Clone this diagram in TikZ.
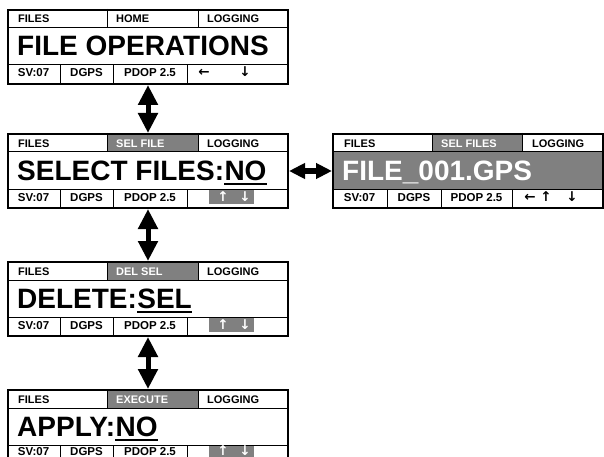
\documentclass[tikz,border=0pt]{standalone}
\usepackage{fontspec}
\setmainfont{Liberation Sans}
\newfontfamily\arrowfont{DejaVu Sans}
\usetikzlibrary{arrows.meta}
\definecolor{hlgray}{RGB}{128,128,128}

\begin{document}
\begin{tikzpicture}[x=1pt,y=-1pt,
  screen/.style={draw,line width=2pt,anchor=north west,inner sep=0pt,minimum height=74pt},
  cell/.style={line width=1pt},
  hl/.style={fill=hlgray},
  tabtext/.style={font=\fontsize{11}{11}\selectfont\bfseries,anchor=base west,inner sep=0pt},
  stattext/.style={font=\fontsize{11.5}{11.5}\selectfont\bfseries,anchor=base,inner sep=0pt},
  arrowtext/.style={font=\fontsize{13.5}{13.5}\arrowfont\bfseries,anchor=base,inner sep=0pt},
  maintext/.style={font=\fontsize{28}{28}\selectfont\bfseries,anchor=base west,inner sep=0pt},
  uline/.style={line width=2.5pt},
  flow/.style={line width=5pt,{Triangle[width=19pt,length=20pt]}-{Triangle[width=19pt,length=20pt]}},
  sideflow/.style={line width=6pt,{Triangle[width=15pt,length=16pt]}-{Triangle[width=15pt,length=16pt]}}]

  \useasboundingbox (0,0) rectangle (604,457);

  % home screen
  \begin{scope}[shift={(7,9)}]
    \draw[cell] (0,19) -- (280,19) (0,56) -- (280,56);
    \draw[cell] (100,0) -- (100,19) (191,0) -- (191,19);
    \draw[cell] (53,56) -- (53,74) (106,56) -- (106,74) (180,56) -- (180,74);
    \node[tabtext] (home-t1) at (11,14) {FILES};
    \node[tabtext] (home-t2) at (109,14) {HOME};
    \node[tabtext] (home-t3) at (200,14) {LOGGING};
    \node[maintext] (home-m) at (10,47) {FILE OPERATIONS};
    \node[stattext] (home-s1) at (26.5,68) {SV:07};
    \node[stattext] (home-s2) at (79.5,68) {DGPS};
    \node[stattext] (home-s3) at (143,68) {PDOP 2.5};
    \node[arrowtext] (home-a1) at (197,68) {←};
    \node[arrowtext] (home-a2) at (238,68) {↓};
    \node[screen,minimum width=280pt] (home) at (0,0) {};
  \end{scope}

  % select files
  \begin{scope}[shift={(7,133)}]
    \fill[hl] (100,0) rectangle (191,19);
    \fill[hl] (202,56) rectangle (247,71);
    \draw[cell] (0,19) -- (280,19) (0,56) -- (280,56);
    \draw[cell] (100,0) -- (100,19) (191,0) -- (191,19);
    \draw[cell] (53,56) -- (53,74) (106,56) -- (106,74) (180,56) -- (180,74);
    \node[tabtext] (sel-t1) at (11,14) {FILES};
    \node[tabtext,white] (sel-t2) at (109,14) {SEL FILE};
    \node[tabtext] (sel-t3) at (200,14) {LOGGING};
    \node[maintext] (sel-m1) at (10,47) {SELECT FILES:};
    \node[maintext] (sel-m2) at (sel-m1.base east) {NO};
    \draw[uline] ([yshift=-4pt]sel-m2.base west) -- ([yshift=-4pt]sel-m2.base east);
    \node[stattext] (sel-s1) at (26.5,68) {SV:07};
    \node[stattext] (sel-s2) at (79.5,68) {DGPS};
    \node[stattext] (sel-s3) at (143,68) {PDOP 2.5};
    \node[arrowtext,white] (sel-a1) at (216,68) {↑};
    \node[arrowtext,white] (sel-a2) at (238,68) {↓};
    \node[screen,minimum width=280pt] (sel) at (0,0) {};
  \end{scope}

  % file list
  \begin{scope}[shift={(332,133)}]
    \fill[hl] (100,0) rectangle (190,19);
    \fill[hl] (0,19) rectangle (270,56);
    \draw[cell] (0,19) -- (270,19) (0,56) -- (270,56);
    \draw[cell] (100,0) -- (100,19) (190,0) -- (190,19);
    \draw[cell] (55,56) -- (55,74) (109,56) -- (109,74) (180,56) -- (180,74);
    \node[tabtext] (file-t1) at (12,14) {FILES};
    \node[tabtext,white] (file-t2) at (109,14) {SEL FILES};
    \node[tabtext] (file-t3) at (200,14) {LOGGING};
    \node[maintext,white] (file-m) at (10,47) {FILE\_001.GPS};
    \node[stattext] (file-s1) at (27.5,68) {SV:07};
    \node[stattext] (file-s2) at (82,68) {DGPS};
    \node[stattext] (file-s3) at (144.5,68) {PDOP 2.5};
    \node[arrowtext] (file-a1) at (198,68) {←};
    \node[arrowtext] (file-a2) at (214,68) {↑};
    \node[arrowtext] (file-a3) at (240,68) {↓};
    \node[screen,minimum width=270pt] (file) at (0,0) {};
  \end{scope}

  % delete selection
  \begin{scope}[shift={(7,261)}]
    \fill[hl] (100,0) rectangle (191,19);
    \fill[hl] (202,56) rectangle (247,71);
    \draw[cell] (0,19) -- (280,19) (0,56) -- (280,56);
    \draw[cell] (100,0) -- (100,19) (191,0) -- (191,19);
    \draw[cell] (53,56) -- (53,74) (106,56) -- (106,74) (180,56) -- (180,74);
    \node[tabtext] (del-t1) at (11,14) {FILES};
    \node[tabtext,white] (del-t2) at (109,14) {DEL SEL};
    \node[tabtext] (del-t3) at (200,14) {LOGGING};
    \node[maintext] (del-m1) at (10,47) {DELETE:};
    \node[maintext] (del-m2) at (del-m1.base east) {SEL};
    \draw[uline] ([yshift=-4pt]del-m2.base west) -- ([yshift=-4pt]del-m2.base east);
    \node[stattext] (del-s1) at (26.5,68) {SV:07};
    \node[stattext] (del-s2) at (79.5,68) {DGPS};
    \node[stattext] (del-s3) at (143,68) {PDOP 2.5};
    \node[arrowtext,white] (del-a1) at (216,68) {↑};
    \node[arrowtext,white] (del-a2) at (238,68) {↓};
    \node[screen,minimum width=280pt] (del) at (0,0) {};
  \end{scope}

  % apply
  \begin{scope}[shift={(7,389)}]
    \fill[hl] (100,0) rectangle (191,19);
    \fill[hl] (202,56) rectangle (247,71);
    \draw[cell] (0,19) -- (280,19) (0,56) -- (280,56);
    \draw[cell] (100,0) -- (100,19) (191,0) -- (191,19);
    \draw[cell] (53,56) -- (53,74) (106,56) -- (106,74) (180,56) -- (180,74);
    \node[tabtext] (run-t1) at (11,14) {FILES};
    \node[tabtext,white] (run-t2) at (109,14) {EXECUTE};
    \node[tabtext] (run-t3) at (200,14) {LOGGING};
    \node[maintext] (run-m1) at (10,47) {APPLY:};
    \node[maintext] (run-m2) at (run-m1.base east) {NO};
    \draw[uline] ([yshift=-4pt]run-m2.base west) -- ([yshift=-4pt]run-m2.base east);
    \node[stattext] (run-s1) at (26.5,66) {SV:07};
    \node[stattext] (run-s2) at (79.5,66) {DGPS};
    \node[stattext] (run-s3) at (143,66) {PDOP 2.5};
    \node[arrowtext,white] (run-a1) at (216,66) {↑};
    \node[arrowtext,white] (run-a2) at (238,66) {↓};
    \node[screen,minimum width=280pt] (run) at (0,0) {};
  \end{scope}

  % arrows
  \draw[flow] (home.south) -- (sel.north);
  \draw[flow] (sel.south) -- (del.north);
  \draw[flow] (del.south) -- (run.north);
  \draw[sideflow] (sel.east) -- (file.west);
\end{tikzpicture}
\end{document}
